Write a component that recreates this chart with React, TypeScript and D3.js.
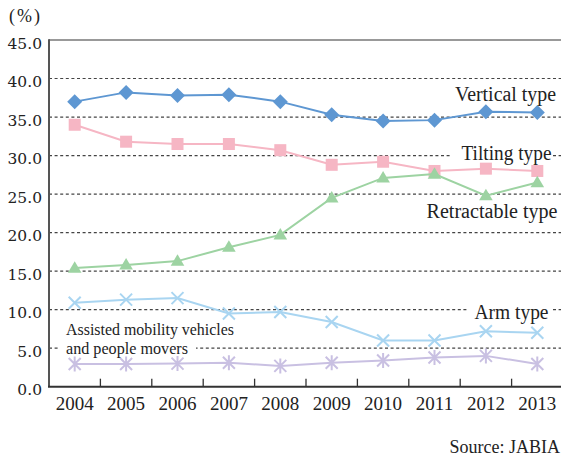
import React from "react";
import * as d3 from "d3";

// Share of each type, 2004–2013 (%)
const years = ["2004", "2005", "2006", "2007", "2008", "2009", "2010", "2011", "2012", "2013"];
const verticalType = [37.0, 38.2, 37.8, 37.9, 37.0, 35.3, 34.5, 34.6, 35.7, 35.6];
const tiltingType = [34.0, 31.8, 31.5, 31.5, 30.7, 28.8, 29.2, 28.0, 28.3, 28.0];
const retractableType = [15.4, 15.8, 16.3, 18.1, 19.7, 24.5, 27.1, 27.6, 24.8, 26.5];
const armType = [10.9, 11.3, 11.5, 9.5, 9.7, 8.4, 6.0, 6.0, 7.2, 7.0];
const assistedMobility = [2.95, 2.95, 3.0, 3.1, 2.7, 3.1, 3.4, 3.8, 4.0, 2.95];
const yTicks = [0, 5, 10, 15, 20, 25, 30, 35, 40, 45];

const W = 561;
const H = 458;
const plot = { left: 49, right: 563, top: 40, bottom: 386.7 };

const x = d3.scaleBand<string>().domain(years).range([plot.left, plot.right]).padding(0);
const y = d3.scaleLinear().domain([0, 45]).range([plot.bottom, plot.top]);
const cx = (yr: string) => (x(yr) as number) + x.bandwidth() / 2;

type MarkerKind = "diamond" | "square" | "triangle" | "cross" | "star";

const series: { name: string; values: number[]; color: string; marker: MarkerKind }[] = [
  { name: "Assisted mobility vehicles and people movers", values: assistedMobility, color: "#c9c0e2", marker: "star" },
  { name: "Arm type", values: armType, color: "#a9d5f1", marker: "cross" },
  { name: "Tilting type", values: tiltingType, color: "#f6b6c4", marker: "square" },
  { name: "Retractable type", values: retractableType, color: "#9dd3a2", marker: "triangle" },
  { name: "Vertical type", values: verticalType, color: "#5e97d2", marker: "diamond" },
];

const serifFont = "'Liberation Serif', 'DejaVu Serif', 'Noto Serif', 'Times New Roman', Times, serif";
const tickFont = "'DejaVu Serif', 'Liberation Serif', 'Noto Serif', serif";
const textColor = "#222";

// Series name placement: x, baseline, fitted width, font size, and the gap cut in the gridline
const seriesLabels = [
  { text: "Vertical type", x: 455, y: 101, w: 101, size: 20, gap: null as null | [number, number] },
  { text: "Tilting type", x: 461.5, y: 160, w: 90, size: 20, gap: [451, 553] as [number, number] },
  { text: "Retractable type", x: 426.5, y: 217.5, w: 131, size: 20, gap: null },
  { text: "Arm type", x: 474.5, y: 318.5, w: 74, size: 20, gap: [468, 551] as [number, number] },
  { text: "Assisted mobility vehicles", x: 66, y: 335, w: 168, size: 17.5, gap: null },
  { text: "and people movers", x: 66, y: 353.5, w: 122, size: 17.5, gap: [59, 196] as [number, number] },
];

function Marker({ kind, px, py, color }: { kind: MarkerKind; px: number; py: number; color: string }) {
  switch (kind) {
    case "diamond": {
      const r = 7.5;
      return <path d={`M${px},${py - r}L${px + r},${py}L${px},${py + r}L${px - r},${py}Z`} fill={color} />;
    }
    case "square": {
      const s = 12;
      return <rect x={px - s / 2} y={py - s / 2} width={s} height={s} fill={color} />;
    }
    case "triangle": {
      const hw = 6.8;
      const h = 11.5;
      return <path d={`M${px},${py - h * 0.6}L${px + hw},${py + h * 0.4}L${px - hw},${py + h * 0.4}Z`} fill={color} />;
    }
    case "cross": {
      const r = 6;
      return (
        <path
          d={`M${px - r},${py - r}L${px + r},${py + r}M${px - r},${py + r}L${px + r},${py - r}`}
          stroke={color}
          strokeWidth={2}
          fill="none"
        />
      );
    }
    case "star": {
      const r = 6;
      return (
        <path
          d={`M${px - r},${py - r}L${px + r},${py + r}M${px - r},${py + r}L${px + r},${py - r}M${px},${py - r - 1.5}L${px},${py + r + 1.5}`}
          stroke={color}
          strokeWidth={2}
          fill="none"
        />
      );
    }
  }
}

export default function App() {
  const line = d3
    .line<number>()
    .x((_, i) => cx(years[i]))
    .y((v) => y(v));

  const gridTicks = yTicks.filter((t) => t > 0 && t < 45);
  const innerTicks = years.slice(1);

  return (
    <svg
      width={W}
      height={H}
      viewBox={`0 0 ${W} ${H}`}
      style={{ position: "fixed", left: 0, top: 0, background: "#fff" }}
    >
      <rect x={0} y={0} width={W} height={H} fill="#fff" />

      {/* dashed gridlines */}
      {gridTicks.map((t) => (
        <line
          key={t}
          x1={plot.left}
          x2={W}
          y1={y(t)}
          y2={y(t)}
          stroke="#444"
          strokeWidth={1.2}
          strokeDasharray="3,2.6"
        />
      ))}

      {/* gaps in the gridlines behind the series names */}
      {seriesLabels
        .filter((l) => l.gap)
        .map((l) => (
          <rect key={l.text} x={l.gap![0]} y={l.y - 14} width={l.gap![1] - l.gap![0]} height={18} fill="#fff" />
        ))}

      {/* frame: top border, left axis, bottom axis */}
      <line x1={plot.left} x2={W} y1={plot.top} y2={plot.top} stroke="#777" strokeWidth={1.5} />
      <line x1={plot.left} x2={plot.left} y1={plot.top - 0.75} y2={plot.bottom} stroke="#555" strokeWidth={2} />
      <line x1={plot.left - 1} x2={W} y1={plot.bottom} y2={plot.bottom} stroke="#333" strokeWidth={2} />
      {innerTicks.map((yr) => (
        <line
          key={yr}
          x1={x(yr) as number}
          x2={x(yr) as number}
          y1={plot.bottom}
          y2={plot.bottom - 8}
          stroke="#333"
          strokeWidth={1.3}
        />
      ))}

      {/* y tick labels */}
      {yTicks.map((t) => (
        <text
          key={t}
          x={42}
          y={y(t) + 8.5}
          textAnchor="end"
          style={{ fontFamily: tickFont, fontSize: "15.5px" }}
          fill={textColor}
        >
          {t.toFixed(1)}
        </text>
      ))}

      {/* x tick labels */}
      {years.map((yr) => (
        <text
          key={yr}
          x={cx(yr)}
          y={410}
          textAnchor="middle"
          style={{ fontFamily: serifFont, fontSize: "19px" }}
          fill={textColor}
        >
          {yr}
        </text>
      ))}

      {/* series */}
      {series.map((s) => (
        <g key={s.name}>
          <path d={line(s.values) ?? ""} fill="none" stroke={s.color} strokeWidth={2} />
          {s.values.map((v, i) => (
            <Marker key={i} kind={s.marker} px={cx(years[i])} py={y(v)} color={s.color} />
          ))}
        </g>
      ))}

      {/* series names */}
      {seriesLabels.map((l) => (
        <text
          key={l.text}
          x={l.x}
          y={l.y}
          style={{ fontFamily: serifFont, fontSize: `${l.size}px` }}
          fill={textColor}
          textLength={l.w}
          lengthAdjust="spacingAndGlyphs"
        >
          {l.text}
        </text>
      ))}

      <text x={9} y={22} style={{ fontFamily: serifFont, fontSize: "18px", letterSpacing: "2px" }} fill={textColor}>
        (%)
      </text>
      <text x={560} y={453} textAnchor="end" style={{ fontFamily: serifFont, fontSize: "18px" }} fill={textColor}>
        Source: JABIA
      </text>
    </svg>
  );
}
